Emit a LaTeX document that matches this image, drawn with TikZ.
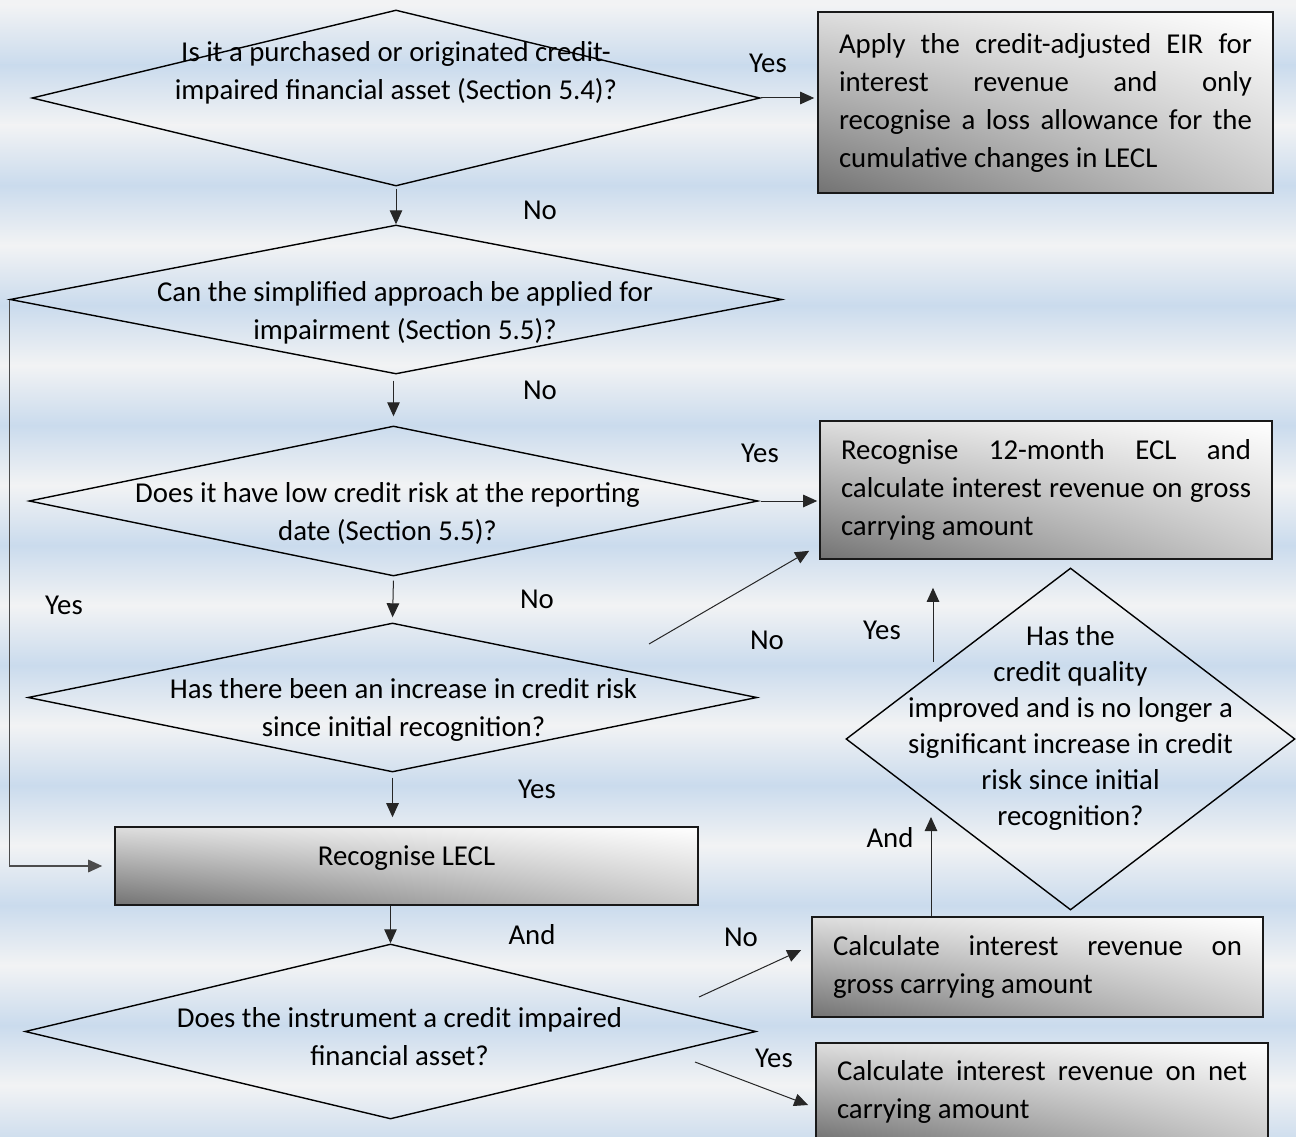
\documentclass[tikz,border=0pt]{standalone}
\usepackage{fontspec}
\setmainfont{Carlito}
\usetikzlibrary{shapes.geometric, arrows.meta, shadings}
\definecolor{bglight}{RGB}{242,243,244}
\definecolor{bgblue}{RGB}{202,219,237}
\tikzstyle{decision} = [diamond, draw=black, line width=1.4pt, inner sep=0pt]
\tikzstyle{process} = [rectangle, draw=black!90, line width=1.6pt, inner xsep=0pt, align=justify, lower left=black!55, upper left=black!13, lower right=black!21, upper right=white]
\tikzstyle{arrow} = [line width=1pt, draw=black!85, -{Triangle[length=14pt,width=12.5pt]}]
\tikzstyle{side} = [line width=1.6pt, draw=black!70, -{Triangle[length=14pt,width=12.5pt]}]
% text of a diamond: #1 = shift right, #2 = raise
\newcommand{\dtext}[3]{\smash{\raisebox{#2}{\makebox[0pt]{\kern#1\relax\begin{tabular}{@{}c@{}}#3\end{tabular}\kern-#1\relax}}}}
\tolerance=10000
\hyphenpenalty=10000
\begin{document}
\begin{tikzpicture}[x=1pt, y=-1pt, every node/.style={font=\fontsize{28.8pt}{38pt}\selectfont}]
\useasboundingbox (0,0) rectangle (1296,1137);
% striped background
\fill[bglight] (0,0) rectangle (1296,6);
\foreach \k in {0,...,9} {
  \shade[top color=bglight, bottom color=bgblue] (0,{5+120*\k}) rectangle (1296,{65.5+120*\k});
  \shade[top color=bgblue, bottom color=bglight] (0,{65+120*\k}) rectangle (1296,{125.5+120*\k});
}

\node (pci) [decision, minimum width=728pt, minimum height=176pt] at (396,98) {\dtext{0pt}{19pt}{Is it a purchased or originated credit-\\impaired financial asset (Section 5.4)?}};
\node (simple) [decision, minimum width=772pt, minimum height=149pt] at (396,299.5) {\dtext{9pt}{-20pt}{Can the simplified approach be applied for\\impairment (Section 5.5)?}};
\node (lowrisk) [decision, minimum width=729pt, minimum height=150pt] at (393.5,501) {\dtext{-6pt}{-19pt}{Does it have low credit risk at the reporting\\date (Section 5.5)?}};
\node (incr) [decision, minimum width=729pt, minimum height=149pt] at (392.5,697.5) {\dtext{11pt}{-18.5pt}{Has there been an increase in credit risk\\since initial recognition?}};
\node (impaired) [decision, minimum width=731pt, minimum height=175pt] at (390.5,1031.5) {\dtext{9pt}{-13.5pt}{Does the instrument a credit impaired\\financial asset?}};
\node (improved) [decision, minimum width=449pt, minimum height=342pt] at (1070.5,739) {\renewcommand{\arraystretch}{0.947}\dtext{0pt}{4.5pt}{Has the\\credit quality\\improved and is no longer a\\significant increase in credit\\risk since initial\\recognition?}};

\node (eir) [process, minimum width=455pt, minimum height=181pt, text width=413pt] at (1045.5,102.5) {Apply the credit-adjusted EIR for\linebreak interest revenue and only\linebreak recognise a loss allowance for the\linebreak cumulative changes in LECL};
\node (ecl) [process, minimum width=452pt, minimum height=138pt, text width=410pt] at (1046,490) {Recognise 12-month ECL and\linebreak calculate interest revenue on gross\linebreak carrying amount};
\node (lecl) [process, align=center, minimum width=583pt, minimum height=78pt, text height=20pt, text depth=22pt] at (406.5,866) {Recognise LECL};
\node (gross) [process, minimum width=451pt, minimum height=100pt, text width=409pt] at (1037.5,967) {Calculate interest revenue on\linebreak gross carrying amount};
\node (net) [process, minimum width=452pt, minimum height=97pt, text width=410pt] at (1042,1091.5) {Calculate interest revenue on net\linebreak carrying amount};

\node (yes1) at (768,63) {Yes};
\node (no1) at (540,210) {No};
\node (no2) at (540,390) {No};
\node (yes2) at (760,453) {Yes};
\node (no3) at (537,599) {No};
\node (yes3) at (64,605) {Yes};
\node (no4) at (767,640) {No};
\node (yes4) at (882,630) {Yes};
\node (yes5) at (537,789) {Yes};
\node (and1) at (890,838) {And};
\node (and2) at (532,935) {And};
\node (no5) at (741,937) {No};
\node (yes6) at (774,1058) {Yes};

\coordinate (n4) at (649,644);
\coordinate (y6) at (933,662);
\coordinate (a6) at (931,817);
\coordinate (n5) at (699,997);
\coordinate (y5) at (695,1062);

\draw [arrow, shorten >=3pt] (pci.east) -- (pci.east -| eir.west);
\draw [arrow, shorten <=2pt] (pci.south) -- (simple.north);
\draw [arrow, shorten <=6pt, shorten >=9pt] (lowrisk.north |- simple.south) -- (lowrisk.north);
\draw [arrow, shorten <=4pt, shorten >=5pt] (lowrisk.south) -- (incr.north);
\draw [arrow, shorten <=5pt, shorten >=9pt] (incr.south) -- (incr.south |- lecl.north);
\draw [arrow] (impaired.north |- lecl.south) -- (impaired.north);
\draw [side, shorten >=12pt] (simple.west) |- (lecl.west);
\draw [arrow, shorten <=2pt, shorten >=2pt] (lowrisk.east) -- (lowrisk.east -| ecl.west);
\draw [arrow] (n4) -- ([xshift=-10pt,yshift=9pt]ecl.south west);
\draw [arrow, shorten >=28pt] (y6) -- (y6 |- ecl.south);
\draw [arrow] (a6 |- gross.north) -- (a6);
\draw [arrow] (n5) -- ([xshift=-10pt,yshift=17pt]gross.west);
\draw [arrow] (y5) -- ([xshift=-7pt,yshift=-13.5pt]net.west);
\end{tikzpicture}
\end{document}
